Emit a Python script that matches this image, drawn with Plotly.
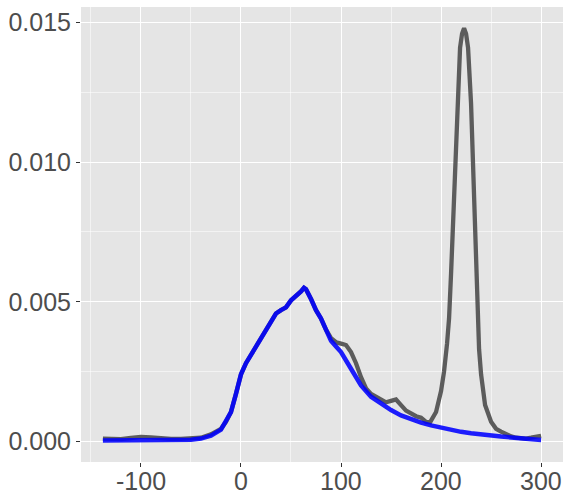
import plotly.graph_objects as go

# Gray: empirical density
gray_x = [-138, -130, -120, -110, -100, -90, -80, -70, -60, -50, -40, -30, -20, -15, -10, -5,
          0, 5, 10, 15, 20, 25, 30, 35, 40, 45, 50, 55, 60, 63, 65, 70, 75, 80, 85, 90, 95,
          100, 105, 110, 115, 120, 125, 130, 135, 140, 145, 150, 155, 160, 165, 170, 175, 180,
          185, 189, 195, 200, 203, 206, 208, 210, 212, 214, 217, 219, 221, 223, 225, 227, 230,
          232, 234, 236, 238, 240, 244, 250, 255, 260, 265, 270, 275, 280, 285, 290, 295, 300]
gray_y = [0.00010, 0.00010, 0.00008, 0.00012, 0.00016, 0.00014, 0.00010, 0.00009, 0.00009,
          0.00010, 0.00013, 0.00025, 0.00045, 0.0007, 0.00105, 0.0017,
          0.0024, 0.0028, 0.0031, 0.00345, 0.0037, 0.0040, 0.0043, 0.00458, 0.0047, 0.0048,
          0.00505, 0.0052, 0.00537, 0.0055, 0.00545, 0.0051, 0.0047, 0.0044, 0.0040, 0.0037,
          0.00355, 0.0035, 0.00345, 0.0032, 0.0028, 0.0023, 0.0019, 0.0017, 0.0016, 0.0015,
          0.0014, 0.00145, 0.0015, 0.0013, 0.0011, 0.0010, 0.0009, 0.00085, 0.0007, 0.00068,
          0.00105, 0.0018, 0.0025, 0.0035, 0.0044, 0.0060, 0.0080, 0.0099, 0.0125, 0.0141,
          0.0146, 0.0148, 0.0146, 0.0141, 0.0121, 0.0097, 0.0069, 0.0047, 0.0033, 0.0024,
          0.0013, 0.0007, 0.00045, 0.00035, 0.00025, 0.00018, 0.00013, 0.0001, 0.0001,
          0.00013, 0.00018, 0.0002]

# Blue: fitted density
blue_x = [-138, -120, -100, -80, -60, -50, -40, -30, -20, -15, -10, -5,
          0, 5, 10, 15, 20, 25, 30, 35, 40, 45, 50, 55, 60, 63, 65, 70, 75, 80, 85, 90, 95,
          100, 110, 120, 130, 140, 150, 160, 170, 180, 190, 200, 210, 220, 230, 240, 250,
          260, 270, 280, 290, 300]
blue_y = [0.00003, 0.00003, 0.00003, 0.00004, 0.00005, 0.00006, 0.0001, 0.0002, 0.00042,
          0.0007, 0.00105, 0.0017,
          0.0024, 0.0028, 0.0031, 0.00345, 0.0037, 0.0040, 0.0043, 0.00458, 0.0047, 0.0048,
          0.00505, 0.0052, 0.00537, 0.0055, 0.00545, 0.0051, 0.0047, 0.0044, 0.0040, 0.0036,
          0.0034, 0.0032, 0.0026, 0.0020, 0.0016, 0.00135, 0.00112, 0.00093, 0.00079,
          0.00067, 0.00057, 0.00048, 0.0004, 0.00034, 0.00029, 0.00024, 0.0002, 0.00017,
          0.00014, 0.00011, 0.00008, 0.00005]

x_ticks = [-100, 0, 100, 200, 300]
x_tick_labels = ["-100", "0", "100", "200", "300"]
y_ticks = [0.0, 0.005, 0.010, 0.015]
y_tick_labels = ["0.000", "0.005", "0.010", "0.015"]

FONT = dict(family="Liberation Sans, Arial, sans-serif", size=25, color="#4D4D4D")

fig = go.Figure()
fig.add_trace(go.Scatter(x=gray_x, y=gray_y, mode="lines",
                         line=dict(color="rgba(77,77,77,0.9)", width=4.3),
                         hoverinfo="skip", showlegend=False))
fig.add_trace(go.Scatter(x=blue_x, y=blue_y, mode="lines",
                         line=dict(color="rgba(0,0,255,0.88)", width=4.5),
                         hoverinfo="skip", showlegend=False))

axis_common = dict(
    showgrid=True, gridcolor="white", gridwidth=1.1,
    zeroline=False, showline=False, automargin=False,
    ticks="outside", ticklen=4, tickwidth=1.1, tickcolor="#333333",
    tickfont=FONT,
    minor=dict(showgrid=True, gridcolor="rgba(255,255,255,0.55)", gridwidth=0.6, ticks=""),
)

fig.update_xaxes(range=[-159.9, 321.9], tickvals=x_ticks, showticklabels=False,
                 minor_tickvals=[-150, -50, 50, 150, 250], **axis_common)
fig.update_yaxes(range=[-0.00074, 0.01556], tickvals=y_ticks, ticktext=y_tick_labels,
                 minor_tickvals=[0.0025, 0.0075, 0.0125], **axis_common)

# x tick labels placed at the axis' tick values
for v, t in zip(x_ticks, x_tick_labels):
    fig.add_annotation(x=v, xref="x", y=0, yref="paper", text=t, showarrow=False,
                       xanchor="center", yanchor="middle", yshift=-19, font=FONT)

fig.update_layout(
    width=570, height=501,
    margin=dict(l=81, r=7, t=7, b=39),
    paper_bgcolor="white", plot_bgcolor="#E5E5E5",
)

fig.write_html("out.html", config={"displayModeBar": False},
               post_script="document.body.style.margin='0';document.body.style.overflow='hidden';")
